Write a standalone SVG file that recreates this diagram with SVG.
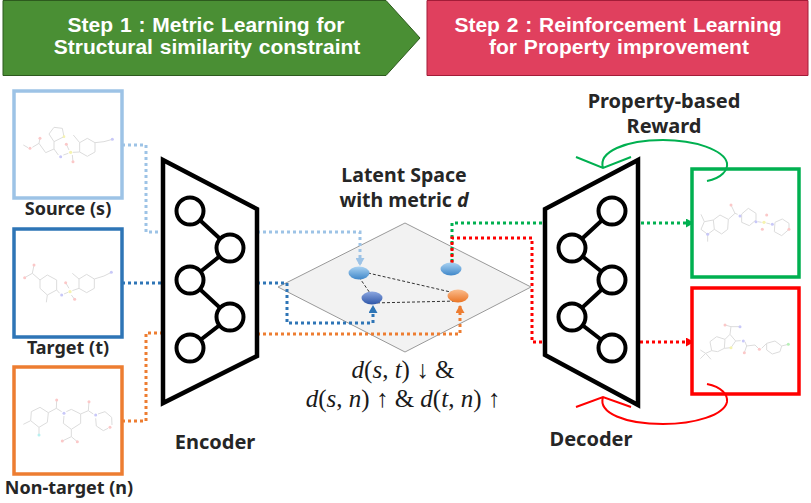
<svg xmlns="http://www.w3.org/2000/svg" width="811" height="503" viewBox="0 0 811 503">
<style>
text{font-family:"Noto Sans","Open Sans","Liberation Sans",sans-serif;font-weight:700;fill:#262626;text-anchor:middle}
.lab{font-size:18px}
.lat{font-size:19.5px}
.big{font-size:20px}
.ban{font-family:"Liberation Sans",Arial,sans-serif;font-size:21px;fill:#fff;word-spacing:1px}
.math{font-family:"Liberation Serif","DejaVu Serif",serif;font-weight:400;font-size:25px;fill:#1a1a1a}
.math tspan.i{font-style:italic}
.box{fill:#fff;stroke-width:3.5}
.net{fill:#fff;stroke:#000;stroke-width:4.5;stroke-linejoin:miter}
.nd{fill:#fff;stroke:#000;stroke-width:4}
.ed{stroke:#000;stroke-width:4;fill:none}
.dot{fill:none;stroke-width:3;stroke-dasharray:3 3}
.dash{fill:none;stroke:#333;stroke-width:1;stroke-dasharray:3 2}
.bond{fill:none;stroke:#dcdcdc;stroke-width:3;stroke-linejoin:round}
.O{fill:#fbc8c8}.N{fill:#c8c8f8}.S{fill:#f5f3b0}.F{fill:#b8f0f0}.Cl{fill:#b8f0b8}
.loop{fill:none;stroke-width:2}
</style>
<defs>
<linearGradient id="gb" x1="0" y1="0" x2="0" y2="1"><stop offset="0" stop-color="#a9d2f2"/><stop offset="1" stop-color="#3f87c9"/></linearGradient>
<linearGradient id="gd" x1="0" y1="0" x2="0" y2="1"><stop offset="0" stop-color="#8ba6e0"/><stop offset="1" stop-color="#2f57a8"/></linearGradient>
<linearGradient id="go" x1="0" y1="0" x2="0" y2="1"><stop offset="0" stop-color="#fbbd8e"/><stop offset="1" stop-color="#ea7424"/></linearGradient>
<marker id="aL" markerUnits="userSpaceOnUse" markerWidth="9" markerHeight="9" refX="8" refY="4.5" orient="auto"><path d="M0 0L8 4.5L0 9Z" fill="#9DC3E6"/></marker>
<marker id="aB" markerUnits="userSpaceOnUse" markerWidth="9" markerHeight="9" refX="8" refY="4.5" orient="auto"><path d="M0 0L8 4.5L0 9Z" fill="#2E75B6"/></marker>
<marker id="aO" markerUnits="userSpaceOnUse" markerWidth="9" markerHeight="9" refX="8" refY="4.5" orient="auto"><path d="M0 0L8 4.5L0 9Z" fill="#ED7D31"/></marker>
<marker id="aG" markerUnits="userSpaceOnUse" markerWidth="9" markerHeight="9" refX="8" refY="4.5" orient="auto"><path d="M0 0L8 4.5L0 9Z" fill="#00B050"/></marker>
<marker id="aR" markerUnits="userSpaceOnUse" markerWidth="9" markerHeight="9" refX="8" refY="4.5" orient="auto"><path d="M0 0L8 4.5L0 9Z" fill="#FF0000"/></marker>
<g id="net"><path class="ed" d="M190 211L230 248L190 280L230 317L190 348"/><circle class="nd" cx="190" cy="211" r="13.5"/><circle class="nd" cx="230" cy="248" r="13.5"/><circle class="nd" cx="190" cy="280" r="13.5"/><circle class="nd" cx="230" cy="317" r="13.5"/><circle class="nd" cx="190" cy="348" r="13.5"/></g>
</defs>

<g id="step1"><path d="M3 0.5H386L420 38L386 75.5H3Z" fill="#4A8F34" stroke="#2D5A1E"/>
<text class="ban" x="206" y="32">Step 1 : Metric Learning for</text>
<text class="ban" x="207" y="54">Structural similarity  constraint</text></g>
<g id="step2"><path d="M427 0.5H808V75.5H427Z" fill="#E0405E" stroke="#A31C38"/>
<text class="ban" x="618" y="32">Step 2 : Reinforcement Learning</text>
<text class="ban" x="619" y="54">for Property improvement</text></g>

<g id="latent">
<path d="M405 223L531 287L405 352L278 287Z" fill="#F2F2F2" stroke="#999" stroke-width="1"/>
<text class="lat" x="404" y="182">Latent Space</text>
<text class="lat" x="404" y="207">with metric <tspan font-style="italic">d</tspan></text>
<text class="math" x="403" y="378"><tspan class="i">d</tspan>(<tspan class="i">s</tspan>, <tspan class="i">t</tspan>) ↓ &amp;</text>
<text class="math" x="403" y="407"><tspan class="i">d</tspan>(<tspan class="i">s</tspan>, <tspan class="i">n</tspan>) ↑ &amp; <tspan class="i">d</tspan>(<tspan class="i">t</tspan>, <tspan class="i">n</tspan>) ↑</text>
<path class="dash" d="M359 277L372 296M368 273L455 293M372 303L458 301"/>
</g>

<g id="connectors">
<path class="dot" stroke="#9DC3E6" d="M122 145H146V232H163"/>
<path class="dot" stroke="#9DC3E6" d="M257 232H360V266" marker-end="url(#aL)"/>
<path class="dot" stroke="#2E75B6" d="M122 283H163"/>
<path class="dot" stroke="#2E75B6" d="M257 283H287V323H373V305" marker-end="url(#aB)"/>
<path class="dot" stroke="#ED7D31" d="M122 421H146V333H163"/>
<path class="dot" stroke="#ED7D31" d="M257 334H460V305" marker-end="url(#aO)"/>
<path class="dot" stroke="#00B050" d="M452 262V223H545"/>
<path class="dot" stroke="#FF0000" d="M452 263V238H532V342H545"/>
<path class="dot" stroke="#00B050" d="M641 223H694" marker-end="url(#aG)"/>
<path class="dot" stroke="#FF0000" d="M640 342H694" marker-end="url(#aR)"/>
</g>

<g id="points">
<ellipse cx="359" cy="273" rx="10.5" ry="6.5" fill="url(#gb)"/>
<ellipse cx="372" cy="298" rx="10.5" ry="6.5" fill="url(#gd)"/>
<ellipse cx="451" cy="269" rx="10.5" ry="6.5" fill="url(#gb)"/>
<ellipse cx="458" cy="296" rx="10.5" ry="6.5" fill="url(#go)"/>
</g>

<g id="encoder"><path class="net" d="M163 160L257 209V356L163 403Z"/><use href="#net"/><text class="big" x="215" y="449">Encoder</text></g>
<g id="decoder"><path class="net" d="M638 160L545 209V355L638 405Z"/><use href="#net" transform="translate(802 0) scale(-1 1)"/><text class="big" x="591" y="446">Decoder</text></g>

<g id="source"><rect class="box" x="14" y="91" width="108" height="107" stroke="#9DC3E6"/>
<g transform="translate(14 110) scale(.3333)"><path class="bond" d="M28 105L42 113M55 112L75 100L78 85M75 100L95 128L120 117L120 95L105 72L120 52L145 55L150 80L120 95M120 117L133 135M148 135L163 130M165 120L157 103M175 135L177 155M178 75L197 98L220 85L243 98L243 126L220 139L197 126L197 98M177 127L197 126M243 98L270 95L295 88"/>
<circle class="O" cx="48" cy="115" r="4.5"/><circle class="O" cx="78" cy="85" r="4.5"/><circle class="S" cx="150" cy="80" r="4"/><circle class="N" cx="140" cy="140" r="4.5"/><circle class="S" cx="170" cy="127" r="5"/><circle class="O" cx="157" cy="103" r="4.5"/><circle class="O" cx="177" cy="155" r="4.5"/><circle class="N" cx="295" cy="88" r="4.5"/></g>
<text class="lab" x="68" y="215">Source (s)</text></g>

<g id="target"><rect class="box" x="14" y="229" width="108" height="108" stroke="#2E75B6"/>
<g transform="translate(14 240) scale(.3333)"><path class="bond" d="M60 75L55 100L32 113M55 100L78 120L100 105L128 120L128 150L100 165L78 145L78 120M100 165L97 187M128 150L137 160M150 162L162 157M165 145L155 128M172 165L182 178M175 100L195 117L218 103L241 117L241 145L218 158L195 145L195 117M175 152L195 145M241 117L270 108L292 97"/>
<circle class="O" cx="60" cy="75" r="4.5"/><circle class="O" cx="32" cy="113" r="4.5"/><circle class="N" cx="143" cy="165" r="4.5"/><circle class="S" cx="168" cy="155" r="5"/><circle class="O" cx="155" cy="128" r="4.5"/><circle class="O" cx="182" cy="178" r="4.5"/><circle class="N" cx="292" cy="97" r="4.5"/></g>
<text class="lab" x="68" y="354">Target (t)</text></g>

<g id="nontarget"><rect class="box" x="14" y="367" width="108" height="107" stroke="#ED7D31"/>
<g transform="translate(14 390) scale(.3333)"><path class="bond" d="M28 103L50 92L52 65L78 52L103 68L100 97L75 112L50 92M75 112L75 135M103 68L127 55L128 30M127 55L143 65M150 78L148 100L172 118L200 100L200 72L172 58L157 65M172 118L172 140L145 153M172 140L190 155M200 72L223 62L225 35M223 62L238 72M245 85L247 108L268 122L282 115M294 105L293 82L273 65L252 72"/>
<circle class="F" cx="75" cy="135" r="4.5"/><circle class="O" cx="128" cy="30" r="4.5"/><circle class="N" cx="150" cy="70" r="4.5"/><circle class="O" cx="145" cy="153" r="4.5"/><circle class="O" cx="190" cy="155" r="4.5"/><circle class="O" cx="225" cy="35" r="4.5"/><circle class="N" cx="245" cy="75" r="4.5"/><circle class="O" cx="288" cy="112" r="4.5"/></g>
<text class="lab" x="69" y="494">Non-target (n)</text></g>

<g id="result-good"><rect class="box" x="692" y="169" width="107" height="108" stroke="#00B050"/>
<g transform="translate(695 190) scale(.3333)"><path class="bond" d="M18 73L28 95L18 118L38 133L58 118L55 90L28 95M38 133L38 155M55 90L75 75L100 88L98 118L80 132L58 118M100 88L120 70L108 45M120 70L128 73M140 72L160 55L183 70L183 90L163 107L140 97L140 72M188 95L200 97M214 99L226 102M240 97L262 87L282 100L282 118L260 137L238 125L240 97"/>
<circle class="N" cx="38" cy="133" r="4.5"/><circle class="O" cx="108" cy="45" r="4.5"/><circle class="N" cx="135" cy="78" r="4.5"/><circle class="N" cx="183" cy="95" r="4.5"/><circle class="S" cx="207" cy="97" r="5"/><circle class="O" cx="215" cy="75" r="4.5"/><circle class="O" cx="202" cy="118" r="4.5"/><circle class="N" cx="232" cy="103" r="4.5"/><circle class="O" cx="282" cy="118" r="4.5"/></g></g>

<g id="result-bad"><rect class="box" x="692" y="288" width="107" height="106" stroke="#FF0000"/>
<g transform="translate(695 310) scale(.3333)"><path class="bond" d="M32 130L16 120M32 130L48 148M32 130L16 146M32 130L50 122L45 95L65 80L90 88L88 115L68 125L50 122M90 88L105 73L122 93L108 113L88 115M105 73L108 50L90 45M108 50L135 50M122 93L137 92M150 95L155 108L148 128M155 108L180 105L193 118M200 115L215 100L240 93L260 108L255 125L232 132L215 120L215 100M260 108L280 103"/>
<circle class="O" cx="90" cy="45" r="4.5"/><circle class="N" cx="135" cy="50" r="4.5"/><circle class="S" cx="108" cy="113" r="4.5"/><circle class="N" cx="145" cy="93" r="4.5"/><circle class="O" cx="148" cy="128" r="4.5"/><circle class="O" cx="193" cy="118" r="4.5"/><circle class="Cl" cx="280" cy="103" r="4.5"/></g></g>

<g id="reward">
<text class="big" x="664" y="108">Property-based</text>
<text class="big" x="664" y="133">Reward</text>
<path class="loop" stroke="#00B050" d="M707 181C722 178 728 170 727 163C724 150 695 140 663 140C625 140 598 152 603 168M576 157L603 168L631 157"/>
<path class="loop" stroke="#FF0000" d="M707 384C722 387 728 395 727 402C724 415 695 424 663 424C625 424 598 413 603 397M576 407L603 397L631 407"/>
</g>
</svg>
